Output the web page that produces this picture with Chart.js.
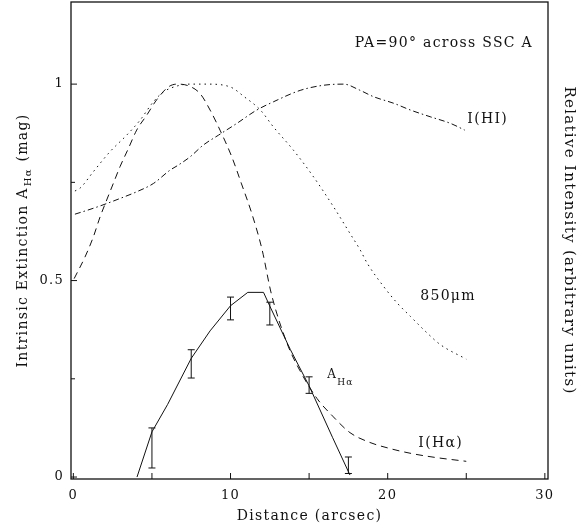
<!DOCTYPE html>
<html>
<head>
<meta charset="utf-8">
<script src="https://cdn.jsdelivr.net/npm/chart.js@4.4.1/dist/chart.umd.min.js"></script>
<style>
  html, body { margin: 0; padding: 0; background: #fff; }
</style>
</head>
<body>
<canvas id="chart" width="585" height="531"></canvas>
<script>
// axis ticks
const xTicks = [0, 5, 10, 15, 20, 25, 30];
const xLabels = [0, 10, 20, 30];
const yTicks = [0, 0.25, 0.5, 0.75, 1];
const yLabels = [0, 0.5, 1];

// A(H-alpha) fitted line
const ahaX = [4.05, 5, 6, 7.5, 8.7, 10, 11.1, 12.1, 12.5, 13.8, 15, 16.5, 17.6];
const ahaY = [0, 0.115, 0.185, 0.302, 0.372, 0.436, 0.47, 0.47, 0.435, 0.325, 0.232, 0.1, 0.005];

// A(H-alpha) measurements with error bars
const errX = [5, 7.5, 10, 12.5, 15, 17.5];
const errY = [0.074, 0.288, 0.429, 0.416, 0.234, 0.03];
const errE = [0.051, 0.036, 0.029, 0.029, 0.021, 0.021];

// I(H-alpha) profile
const hxX = [0.05, 0.74, 1.27, 1.7, 2.12, 2.54, 2.97, 3.5, 4.03, 4.67, 5.3, 6.05, 6.6, 7.3, 8.06, 8.7, 9.33, 10.08, 10.7, 11.36, 12.0, 12.6, 13.6, 14.4, 15.5, 16.5, 17.6, 18.8, 20.1, 21.5, 23.0, 25.0];
const hxY = [0.505, 0.56, 0.611, 0.662, 0.705, 0.747, 0.79, 0.836, 0.883, 0.921, 0.96, 0.993, 1.0, 0.996, 0.976, 0.934, 0.883, 0.815, 0.746, 0.67, 0.58, 0.466, 0.34, 0.272, 0.2, 0.155, 0.113, 0.089, 0.073, 0.06, 0.05, 0.04];

// 850 micron profile
const smX = [0.1, 0.42, 1.27, 2.33, 3.39, 4.24, 5.09, 5.73, 6.58, 7.4, 8.5, 9.97, 10.9, 11.9, 12.73, 14.0, 15.28, 16.55, 17.6, 18.25, 18.7, 19.74, 20.6, 21.44, 22.5, 23.35, 25.0];
const smY = [0.728, 0.735, 0.777, 0.828, 0.87, 0.908, 0.955, 0.98, 0.995, 1.0, 1.0, 0.993, 0.967, 0.934, 0.891, 0.832, 0.764, 0.688, 0.62, 0.578, 0.544, 0.485, 0.443, 0.409, 0.367, 0.337, 0.3];

// I(HI) profile
const hiX = [0.1, 1.27, 2.12, 2.97, 4.03, 5.09, 6.15, 6.68, 7.43, 8.27, 9.23, 10.4, 11.67, 12.73, 14.43, 15.9, 17.2, 18.2, 19.1, 20.4, 21.45, 22.7, 24.0, 24.9];
const hiY = [0.669, 0.684, 0.696, 0.709, 0.726, 0.747, 0.781, 0.794, 0.815, 0.845, 0.87, 0.9, 0.934, 0.955, 0.984, 0.997, 1.0, 0.985, 0.968, 0.951, 0.934, 0.917, 0.9, 0.883];

const serif = "'DejaVu Serif', 'Liberation Serif', serif";
const ink = '#111';
const spacing = '1.3px';

const toPoints = (xs, ys) => xs.map((x, i) => ({ x: x, y: ys[i] }));

function lineSet(label, xs, ys, dash, smooth) {
    return {
        label: label,
        data: toPoints(xs, ys),
        borderColor: ink,
        borderWidth: 1,
        borderDash: dash,
        fill: false,
        pointRadius: 0,
        tension: smooth ? 0.4 : 0,
        cubicInterpolationMode: smooth ? 'monotone' : 'default'
    };
}

// the plot's lettering is widely spaced
const spacingPlugin = {
    id: 'spacing',
    beforeDraw(chart) { chart.ctx.letterSpacing = spacing; },
    afterDraw(chart) { chart.ctx.letterSpacing = '0px'; }
};

// frame, inward tick marks, error bars and curve labels
const framePlugin = {
    id: 'frame',
    afterDatasetsDraw(chart) {
        const ctx = chart.ctx;
        const area = chart.chartArea;
        const xs = chart.scales.x;
        const ys = chart.scales.y;
        ctx.save();
        ctx.strokeStyle = ink;
        ctx.lineWidth = 1.3;
        ctx.strokeRect(area.left, area.top, area.right - area.left, area.bottom - area.top);

        ctx.lineWidth = 1;
        ctx.beginPath();
        xs.ticks.forEach(t => {
            const px = xs.getPixelForValue(t.value);
            ctx.moveTo(px, area.bottom);
            ctx.lineTo(px, area.bottom - 6);
        });
        ys.ticks.forEach(t => {
            const py = ys.getPixelForValue(t.value);
            const len = yLabels.includes(t.value) ? 6 : 4;
            ctx.moveTo(area.left, py);
            ctx.lineTo(area.left + len, py);
        });
        ctx.stroke();

        // error bars
        ctx.beginPath();
        errX.forEach((x, i) => {
            const px = xs.getPixelForValue(x);
            const top = ys.getPixelForValue(errY[i] + errE[i]);
            const bot = ys.getPixelForValue(errY[i] - errE[i]);
            ctx.moveTo(px, top);
            ctx.lineTo(px, bot);
            ctx.moveTo(px - 3.5, top);
            ctx.lineTo(px + 3.5, top);
            ctx.moveTo(px - 3.5, bot);
            ctx.lineTo(px + 3.5, bot);
        });
        ctx.stroke();

        // curve labels
        ctx.fillStyle = ink;
        ctx.textBaseline = 'alphabetic';
        ctx.textAlign = 'left';
        ctx.font = '14px ' + serif;
        ctx.fillText('PA=90° across SSC A', xs.getPixelForValue(17.9), ys.getPixelForValue(1.095));
        ctx.fillText('I(HI)', xs.getPixelForValue(25.07), ys.getPixelForValue(0.901));
        ctx.fillText('850μm', xs.getPixelForValue(22.07), ys.getPixelForValue(0.45));
        ctx.fillText('I(Hα)', xs.getPixelForValue(21.95), ys.getPixelForValue(0.077));

        ctx.font = '12px ' + serif;
        const ax = xs.getPixelForValue(16.15);
        ctx.fillText('A', ax, ys.getPixelForValue(0.252));
        const aw = ctx.measureText('A').width;
        ctx.font = '9px ' + serif;
        ctx.fillText('Hα', ax + aw, ys.getPixelForValue(0.234));

        // left axis title with subscript
        const main1 = 'Intrinsic Extinction A';
        const sub = 'Hα';
        const main2 = ' (mag)';
        ctx.font = '14px ' + serif;
        const w1 = ctx.measureText(main1).width;
        const w3 = ctx.measureText(main2).width;
        ctx.font = '10px ' + serif;
        const w2 = ctx.measureText(sub).width + 2;
        const total = w1 + w2 + w3;
        ctx.translate(27, (area.top + area.bottom) / 2);
        ctx.rotate(-Math.PI / 2);
        let cx = -total / 2;
        ctx.font = '14px ' + serif;
        ctx.fillText(main1, cx, 0);
        cx += w1 + 1;
        ctx.font = '10px ' + serif;
        ctx.fillText(sub, cx, 4);
        cx += w2 - 1;
        ctx.font = '14px ' + serif;
        ctx.fillText(main2, cx, 0);
        ctx.restore();
    }
};

new Chart(document.getElementById('chart').getContext('2d'), {
    type: 'line',
    data: {
        datasets: [
            lineSet('A(Hα)', ahaX, ahaY, [], false),
            lineSet('I(Hα)', hxX, hxY, [7, 5], true),
            lineSet('850μm', smX, smY, [1.5, 4], true),
            lineSet('I(HI)', hiX, hiY, [6, 3, 1.5, 3], true)
        ]
    },
    options: {
        responsive: false,
        animation: false,
        events: [],
        layout: { padding: { top: 2, left: 0, right: 0, bottom: 0 } },
        plugins: { legend: { display: false }, tooltip: { enabled: false } },
        scales: {
            x: {
                type: 'linear',
                min: -0.15,
                max: 30.2,
                afterBuildTicks: s => { s.ticks = xTicks.map(v => ({ value: v })); },
                afterFit: s => { s.height = 52; s.paddingLeft = 0; s.paddingRight = 0; },
                grid: { display: false, drawTicks: false },
                border: { display: false },
                ticks: {
                    autoSkip: false,
                    maxRotation: 0,
                    padding: 9,
                    color: ink,
                    font: { family: serif, size: 13 },
                    callback: v => xLabels.includes(v) ? String(v) : ''
                },
                title: {
                    display: true,
                    text: 'Distance (arcsec)',
                    color: ink,
                    font: { family: serif, size: 14 },
                    padding: { top: 0, bottom: 6 }
                }
            },
            y: {
                type: 'linear',
                min: -0.005,
                max: 1.209,
                afterBuildTicks: s => { s.ticks = yTicks.map(v => ({ value: v })); },
                afterFit: s => { s.width = 71; s.paddingTop = 0; s.paddingBottom = 0; },
                grid: { display: false, drawTicks: false },
                border: { display: false },
                ticks: {
                    autoSkip: false,
                    padding: 7,
                    color: ink,
                    font: { family: serif, size: 13 },
                    callback: v => yLabels.includes(v) ? String(v) : ''
                }
            },
            y2: {
                type: 'linear',
                position: 'right',
                min: -0.005,
                max: 1.209,
                afterFit: s => { s.width = 37; s.paddingTop = 0; s.paddingBottom = 0; },
                grid: { display: false, drawTicks: false },
                border: { display: false },
                ticks: { display: false },
                title: {
                    display: true,
                    text: 'Relative Intensity (arbitrary units)',
                    color: ink,
                    font: { family: serif, size: 15 },
                    padding: { top: 7, bottom: 0 }
                }
            }
        }
    },
    plugins: [spacingPlugin, framePlugin]
});
</script>
</body>
</html>
